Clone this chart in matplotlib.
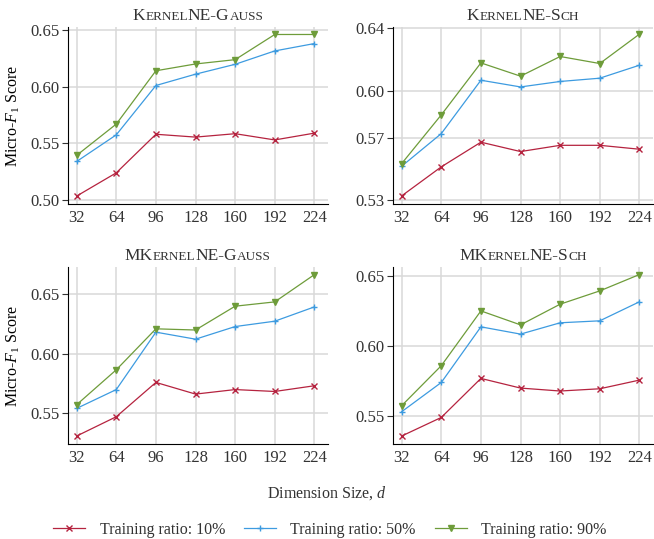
import matplotlib
matplotlib.use("Agg")
import matplotlib.pyplot as plt
from matplotlib.offsetbox import TextArea, HPacker, AnchoredOffsetbox

plt.rcParams['font.family'] = ['Liberation Serif', 'DejaVu Serif']
plt.rcParams['mathtext.fontset'] = 'custom'
plt.rcParams['mathtext.rm'] = 'Liberation Serif'
plt.rcParams['mathtext.it'] = 'Liberation Serif:italic'
plt.rcParams['text.color'] = '#333333'
plt.rcParams['xtick.color'] = '#333333'
plt.rcParams['ytick.color'] = '#333333'

dims = [32, 64, 96, 128, 160, 192, 224]
ratio_labels = ["Training ratio: 10%", "Training ratio: 50%", "Training ratio: 90%"]

# KernelNE-Gauss
kg_10 = [0.5035, 0.524, 0.558, 0.5555, 0.5585, 0.553, 0.559]
kg_50 = [0.534, 0.5575, 0.601, 0.611, 0.6197, 0.6315, 0.638]
kg_90 = [0.5394, 0.567, 0.614, 0.620, 0.6238, 0.646, 0.646]

# KernelNE-Sch
ks_10 = [0.5326, 0.5512, 0.567, 0.561, 0.565, 0.565, 0.5625]
ks_50 = [0.5516, 0.5725, 0.6067, 0.6024, 0.6059, 0.608, 0.6163]
ks_90 = [0.5533, 0.5845, 0.6178, 0.6093, 0.6219, 0.6174, 0.6362]

# MKernelNE-Gauss
mg_10 = [0.531, 0.5472, 0.576, 0.5662, 0.570, 0.5684, 0.5732]
mg_50 = [0.5542, 0.570, 0.6182, 0.6123, 0.6229, 0.6274, 0.6394]
mg_90 = [0.5573, 0.5866, 0.621, 0.620, 0.640, 0.6436, 0.6665]

# MKernelNE-Sch
ms_10 = [0.5357, 0.549, 0.5769, 0.570, 0.5679, 0.5695, 0.5757]
ms_50 = [0.5531, 0.574, 0.6138, 0.6086, 0.6167, 0.6181, 0.6317]
ms_90 = [0.5574, 0.586, 0.6252, 0.6152, 0.630, 0.6395, 0.6512]

# titles in small caps: (text, is_small)
titles = [
    [("K", 0), ("ERNEL", 1), ("NE-G", 0), ("AUSS", 1)],
    [("K", 0), ("ERNEL", 1), ("NE-S", 0), ("CH", 1)],
    [("MK", 0), ("ERNEL", 1), ("NE-G", 0), ("AUSS", 1)],
    [("MK", 0), ("ERNEL", 1), ("NE-S", 0), ("CH", 1)],
]
yticks = [
    [0.50, 0.55, 0.60, 0.65],
    [0.53, 0.57, 0.60, 0.64],
    [0.55, 0.60, 0.65],
    [0.55, 0.60, 0.65],
]
ylims = [(0.4965, 0.6526), (0.5274, 0.6408), (0.5243, 0.6729), (0.530, 0.6566)]
panels = [(kg_10, kg_50, kg_90), (ks_10, ks_50, ks_90),
          (mg_10, mg_50, mg_90), (ms_10, ms_50, ms_90)]

colors = ['#b5233f', '#3d9be0', '#6e9c3a']
markers = ['x', '+', 'v']
msizes = [4, 4.5, 5]

W, H = 654, 539
fig = plt.figure(figsize=(W / 100, H / 100), dpi=100)
boxes = [(68, 27, 260, 177), (393, 27, 260, 177),
         (68, 267, 260, 177), (393, 267, 260, 177)]

handles = []
for i, (x0, y0, w, h) in enumerate(boxes):
    ax = fig.add_axes([x0 / W, 1 - (y0 + h) / H, w / W, h / H])
    for j, ys in enumerate(panels[i]):
        ln, = ax.plot(dims, ys, color=colors[j], marker=markers[j],
                      markersize=msizes[j], linewidth=0.9,
                      markeredgewidth=1.0, label=ratio_labels[j])
        if i == 0:
            handles.append(ln)
    ax.set_xlim(25, 235)
    ax.set_ylim(*ylims[i])
    ax.set_xticks(dims)
    ax.set_yticks(yticks[i])
    ax.set_yticklabels(["%.2f" % t for t in yticks[i]])
    ax.grid(True, color='#d8d8d8', linewidth=1.1)
    ax.set_axisbelow(True)
    ax.spines['top'].set_visible(False)
    ax.spines['right'].set_visible(False)
    ax.tick_params(axis='x', length=0, labelsize=12, pad=4)
    ax.tick_params(axis='y', length=4, width=0.8, labelsize=12, pad=2)
    if i % 2 == 0:
        ax.set_ylabel(r"Micro-$F_1$ Score", fontsize=11.5, labelpad=6)

    parts = []
    for txt, small in titles[i]:
        parts.append(TextArea(txt, textprops=dict(
            fontsize=9.5 if small else 12.5, color='#333333',
            family=['Liberation Serif', 'DejaVu Serif'])))
    pack = HPacker(children=parts, align="baseline", pad=0, sep=0)
    ab = AnchoredOffsetbox(loc='lower center', child=pack, pad=0,
                           borderpad=0.25, frameon=False,
                           bbox_to_anchor=(0.5, 1.0),
                           bbox_transform=ax.transAxes)
    ax.add_artist(ab)

fig.text(327 / W, 1 - 493 / H, r"Dimension Size, $d$", ha='center',
         va='center', fontsize=11.5)
fig.legend(handles=handles, loc='center', bbox_to_anchor=(330 / W, 1 - 530 / H),
           ncol=3, frameon=False, fontsize=11.5, handlelength=2.0,
           columnspacing=1.2, handletextpad=0.9)

fig.savefig("out.png", dpi=100)
